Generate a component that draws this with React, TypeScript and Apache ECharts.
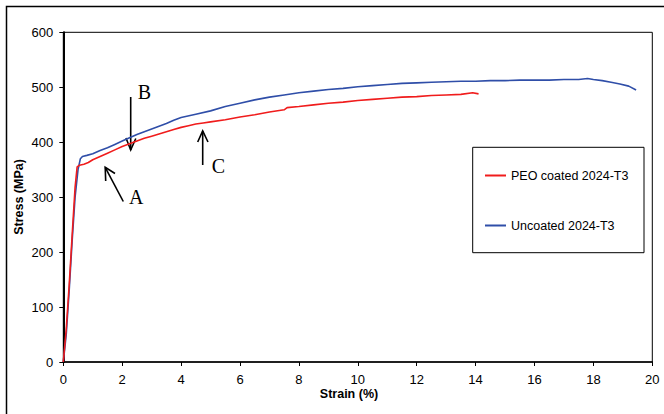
import React, { useEffect, useRef } from "react";
import * as echarts from "echarts";

const xTicks = { min: 0, max: 20, interval: 2 };
const yTicks = { min: 0, max: 600, interval: 100 };

const seriesNames = ["PEO coated 2024-T3", "Uncoated 2024-T3"];

const peoStrain = [0, 0.1, 0.2, 0.3, 0.4, 0.47, 0.55, 0.7, 0.85, 1.0, 1.25, 1.5, 1.75, 2.0, 2.25, 2.5, 2.75, 3.0, 3.25, 3.5, 3.75, 4.0, 4.25, 4.5, 4.75, 5.0, 5.5, 6.0, 6.5, 7.0, 7.5, 7.6, 8.0, 8.5, 9.0, 9.5, 10.0, 10.5, 11.0, 11.5, 12.0, 12.5, 13.0, 13.5, 13.9, 14.1];
const peoStress = [0, 60, 140, 230, 318, 355, 358, 360, 363, 368, 374, 380, 386, 392, 397, 402, 407, 411, 415, 419, 423, 427, 430, 433, 435, 437, 441, 446, 450, 455, 459, 463, 465, 468, 471, 473, 476, 478, 480, 482, 483, 485, 486, 487, 490, 488];

const uncStrain = [0, 0.1, 0.2, 0.3, 0.4, 0.5, 0.58, 0.65, 0.8, 1.0, 1.25, 1.5, 1.75, 2.0, 2.25, 2.5, 2.75, 3.0, 3.25, 3.5, 3.75, 4.0, 4.5, 5.0, 5.5, 6.0, 6.5, 7.0, 7.5, 8.0, 8.5, 9.0, 9.5, 10.0, 10.5, 11.0, 11.5, 12.0, 12.5, 13.0, 13.5, 14.0, 14.5, 15.0, 15.5, 16.0, 16.5, 17.0, 17.5, 17.8, 18.0, 18.3, 18.6, 18.9, 19.2, 19.45];
const uncStress = [0, 50, 130, 220, 300, 350, 370, 374, 376, 379, 385, 390, 396, 402, 408, 414, 419, 424, 429, 434, 440, 445, 451, 457, 465, 471, 477, 482, 486, 490, 493, 496, 498, 501, 503, 505, 507, 508, 509, 510, 511, 511, 512, 512, 513, 513, 513, 514, 514, 516, 514, 512, 509, 506, 502, 495];

const FONT = "'Liberation Sans', Arial, Helvetica, sans-serif";
const SERIF = "'Liberation Serif', 'Times New Roman', serif";

function pairs(xs: number[], ys: number[]) {
  return xs.map((x, i) => [x, ys[i]]);
}

export default function App() {
  const ref = useRef<HTMLDivElement>(null);
  useEffect(() => {
    if (!ref.current) return;
    const chart = echarts.init(ref.current, undefined, { renderer: "svg" });
    const arrowStyle = { stroke: "#000", lineWidth: 1.6, fill: "none" };
    chart.setOption({
      animation: false,
      backgroundColor: "#fff",
      grid: {
        left: 63.3,
        right: 11.7,
        top: 32.3,
        bottom: 52,
        show: true,
        borderColor: "#000",
        borderWidth: 1,
        backgroundColor: "transparent",
      },
      xAxis: {
        type: "value",
        min: xTicks.min,
        max: xTicks.max,
        interval: xTicks.interval,
        axisLine: { show: true, onZero: false, lineStyle: { color: "#000", width: 1.5 } },
        axisTick: { show: true, length: 4, lineStyle: { color: "#000", width: 1 } },
        axisLabel: { color: "#000", fontSize: 13, fontFamily: FONT, margin: 11 },
        splitLine: { show: false },
      },
      yAxis: {
        type: "value",
        min: yTicks.min,
        max: yTicks.max,
        interval: yTicks.interval,
        axisLine: { show: true, onZero: false, lineStyle: { color: "#000", width: 2 } },
        axisTick: { show: true, length: 4, lineStyle: { color: "#000", width: 1 } },
        axisLabel: { color: "#000", fontSize: 13, fontFamily: FONT, margin: 10 },
        splitLine: { show: false },
      },
      legend: {
        orient: "vertical",
        left: 484,
        top: 169,
        padding: 0,
        itemWidth: 21,
        itemHeight: 14,
        itemGap: 37,
        data: seriesNames,
        itemStyle: { opacity: 0 },
        textStyle: { color: "#000", fontSize: 12.5, fontFamily: FONT },
      },
      series: [
        {
          name: seriesNames[0],
          type: "line",
          data: pairs(peoStrain, peoStress),
          symbol: "none",
          showSymbol: false,
          lineStyle: { color: "#f01c1c", width: 1.6 },
          itemStyle: { color: "#f01c1c" },
          z: 3,
        },
        {
          name: seriesNames[1],
          type: "line",
          data: pairs(uncStrain, uncStress),
          symbol: "none",
          showSymbol: false,
          lineStyle: { color: "#2f4ea8", width: 1.6 },
          itemStyle: { color: "#2f4ea8" },
          z: 2,
        },
      ],
      graphic: [
        {
          type: "rect",
          shape: { x: 6.5, y: 6.5, width: 900, height: 900 },
          style: { fill: "none", stroke: "#000", lineWidth: 1.5 },
          silent: true,
        },
        {
          type: "rect",
          shape: { x: 472.7, y: 147.3, width: 171.3, height: 105.4 },
          style: { fill: "none", stroke: "#000", lineWidth: 1 },
          silent: true,
        },
        {
          type: "text",
          x: 349,
          y: 394,
          style: { text: "Strain (%)", font: `bold 12.5px ${FONT}`, fill: "#000", align: "center", verticalAlign: "middle" },
        },
        {
          type: "text",
          x: 19,
          y: 197,
          rotation: Math.PI / 2,
          style: { text: "Stress (MPa)", font: `bold 12.5px ${FONT}`, fill: "#000", align: "center", verticalAlign: "middle" },
        },
        // B arrow
        { type: "line", shape: { x1: 130.7, y1: 97, x2: 130.7, y2: 150 }, style: arrowStyle },
        { type: "polyline", shape: { points: [[126, 138], [130.7, 150], [135.8, 138.5]] }, style: arrowStyle },
        { type: "text", x: 144.5, y: 92, style: { text: "B", font: `20px ${SERIF}`, fill: "#000", align: "center", verticalAlign: "middle" } },
        // C arrow
        { type: "line", shape: { x1: 202.7, y1: 165, x2: 202.7, y2: 131 }, style: arrowStyle },
        { type: "polyline", shape: { points: [[197.7, 142], [202.7, 131], [208, 142]] }, style: arrowStyle },
        { type: "text", x: 218.3, y: 165.5, style: { text: "C", font: `20px ${SERIF}`, fill: "#000", align: "center", verticalAlign: "middle" } },
        // A arrow
        { type: "line", shape: { x1: 123.3, y1: 201.5, x2: 105.2, y2: 167.3 }, style: arrowStyle },
        { type: "polyline", shape: { points: [[105.7, 181], [105.2, 167.3], [115, 173.5]] }, style: arrowStyle },
        { type: "text", x: 136.2, y: 197, style: { text: "A", font: `20px ${SERIF}`, fill: "#000", align: "center", verticalAlign: "middle" } },
      ],
    });
    return () => chart.dispose();
  }, []);
  return (
    <div
      ref={ref}
      style={{ position: "fixed", left: 0, top: 0, width: 664, height: 414, background: "#fff" }}
    />
  );
}
